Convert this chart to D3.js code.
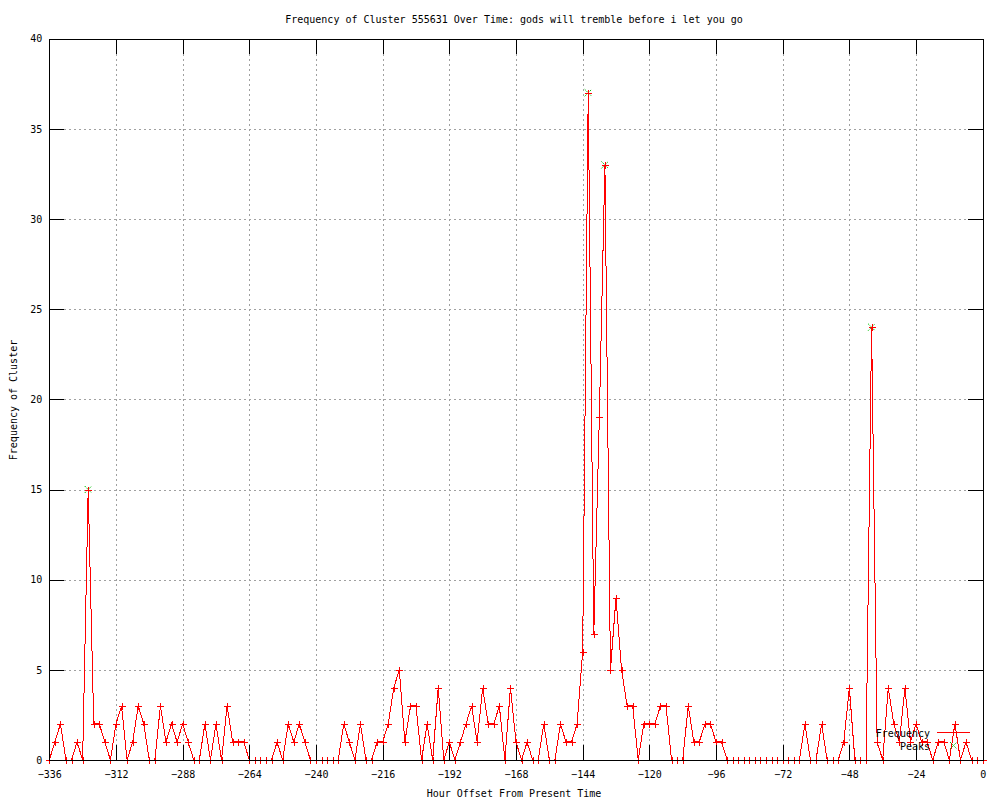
<!DOCTYPE html>
<html>
<head>
<meta charset="utf-8">
<script src="https://cdn.jsdelivr.net/npm/d3@7"></script>
<style>
  html, body { margin: 0; padding: 0; background: #fff; }
  svg { display: block; }
  text { font-family: "DejaVu Sans Mono", "Liberation Mono", monospace; font-size: 10px; fill: #000; }
</style>
</head>
<body>
<svg id="chart" width="1000" height="800"></svg>
<script>
// ---- data ----
const title = "Frequency of Cluster 555631 Over Time: gods will tremble before i let you go";
const xLabel = "Hour Offset From Present Time";
const yLabel = "Frequency of Cluster";
const startHour = -336;
const stepHours = 2;
const frequency = [
  0,1,2,0,0,1,0,15,2,2,1,0,2,3,0,1,3,2,0,0,3,1,2,1,2,1,0,0,2,0,2,0,3,1,1,1,0,0,0,0,0,1,
  0,2,1,2,1,0,0,0,0,0,0,2,1,0,2,0,0,1,1,2,4,5,1,3,3,0,2,0,4,0,1,0,1,2,3,1,4,2,2,3,0,4,
  1,0,1,0,0,2,0,0,2,1,1,2,6,37,7,19,33,5,9,5,3,3,0,2,2,2,3,3,0,0,0,3,1,1,2,2,1,1,0,0,0,
  0,0,0,0,0,0,0,0,0,0,0,2,0,0,2,0,0,0,1,4,0,0,0,24,1,0,4,2,1,4,1,2,1,1,0,1,1,0,2,0,1,0,0,0
];
const peakHours = [-322, -142, -136, -40];
const peakValues = [15, 37, 33, 24];
const xTicks = [-336,-312,-288,-264,-240,-216,-192,-168,-144,-120,-96,-72,-48,-24,0];
const yTicks = [0,5,10,15,20,25,30,35,40];

const freqData = frequency.map((v, i) => ({ x: startHour + i * stepHours, y: v }));
const peakData = peakHours.map((h, i) => ({ x: h, y: peakValues[i] }));

// ---- layout ----
const L = 49.3, R = 982.7, T = 38.7, B = 760;
const svg = d3.select("#chart");
const x = d3.scaleLinear().domain([-336, 0]).range([L, R]);
const y = d3.scaleLinear().domain([0, 40]).range([B, T]);
const TICK = 15;

// grid
const grid = svg.append("g").attr("stroke", "#a0a0a0").attr("stroke-dasharray", "2,3")
  .attr("shape-rendering", "crispEdges");
grid.selectAll("line.gx").data(xTicks.slice(1, -1)).join("line")
  .attr("x1", d => Math.round(x(d)) + 0.5).attr("x2", d => Math.round(x(d)) + 0.5)
  .attr("y1", T).attr("y2", B);
grid.selectAll("line.gy").data(yTicks.slice(1, -1)).join("line")
  .attr("y1", d => Math.round(y(d)) + 0.5).attr("y2", d => Math.round(y(d)) + 0.5)
  .attr("x1", L).attr("x2", R);

// data line
const line = d3.line().x(d => x(d.x)).y(d => y(d.y));
svg.append("path").datum(freqData)
  .attr("d", line).attr("fill", "none").attr("stroke", "#ff0000").attr("stroke-width", 1)
  .attr("shape-rendering", "crispEdges");

// markers
const plus = (cx, cy, s) => `M${cx - s},${cy}H${cx + s}M${cx},${cy - s}V${cy + s}`;
const cross = (cx, cy, s) => `M${cx - s},${cy - s}L${cx + s},${cy + s}M${cx - s},${cy + s}L${cx + s},${cy - s}`;

svg.append("g").selectAll("path.pk").data(peakData).join("path")
  .attr("d", d => cross(x(d.x), y(d.y), 3.5))
  .attr("stroke", "#00c000").attr("stroke-width", 1).attr("stroke-dasharray", "1.5,1").attr("fill", "none");

svg.append("g").selectAll("path").data(freqData).join("path")
  .attr("d", d => plus(Math.round(x(d.x)) + 0.5, Math.round(y(d.y)) + 0.5, 3.5))
  .attr("stroke", "#ff0000").attr("stroke-width", 1).attr("fill", "none")
  .attr("shape-rendering", "crispEdges");

// axes (ticks inward, mirrored)
const axB = svg.append("g").attr("transform", `translate(0,${B})`)
  .call(d3.axisBottom(x).tickValues(xTicks).tickFormat(d3.format("d")).tickSizeInner(-TICK).tickSizeOuter(0).tickPadding(11));
const axT = svg.append("g").attr("transform", `translate(0,${T})`)
  .call(d3.axisTop(x).tickValues(xTicks).tickFormat("").tickSizeInner(-TICK).tickSizeOuter(0));
const axL = svg.append("g").attr("transform", `translate(${L},0)`)
  .call(d3.axisLeft(y).tickValues(yTicks).tickFormat(d3.format("d")).tickSizeInner(-TICK).tickSizeOuter(0).tickPadding(7));
const axR = svg.append("g").attr("transform", `translate(${R},0)`)
  .call(d3.axisRight(y).tickValues(yTicks).tickFormat("").tickSizeInner(-TICK).tickSizeOuter(0));
[axB, axT, axL, axR].forEach(a => {
  a.select(".domain").remove();
  a.selectAll("line").attr("stroke", "#000").attr("shape-rendering", "crispEdges");
  a.selectAll("text").attr("font-family", null).attr("font-size", null).attr("fill", "#000");
});

// border
svg.append("rect").attr("x", Math.round(L) + 0.5).attr("y", Math.round(T) + 0.5)
  .attr("width", Math.round(R) - Math.round(L)).attr("height", Math.round(B) - Math.round(T))
  .attr("fill", "none").attr("stroke", "#000").attr("shape-rendering", "crispEdges");

// titles
svg.append("text").attr("x", 514).attr("y", 19).attr("dy", "0.35em")
  .attr("text-anchor", "middle").text(title);
svg.append("text").attr("x", 514).attr("y", 793).attr("dy", "0.35em")
  .attr("text-anchor", "middle").text(xLabel);
svg.append("text").attr("transform", "translate(13,400) rotate(-90)").attr("dy", "0.35em")
  .attr("text-anchor", "middle").text(yLabel);

// legend
const lg = svg.append("g");
lg.append("text").attr("x", 930).attr("y", 733).attr("dy", "0.35em").attr("text-anchor", "end").text("Frequency");
lg.append("line").attr("x1", 937).attr("x2", 970).attr("y1", 732.5).attr("y2", 732.5)
  .attr("stroke", "#ff0000").attr("shape-rendering", "crispEdges");
lg.append("path").attr("d", plus(953.5, 732.5, 3.5)).attr("stroke", "#ff0000").attr("shape-rendering", "crispEdges");
lg.append("text").attr("x", 930).attr("y", 746).attr("dy", "0.35em").attr("text-anchor", "end").text("Peaks");
lg.append("path").attr("d", cross(953.5, 745.5, 3.5)).attr("stroke", "#00c000").attr("stroke-dasharray", "1.5,1").attr("fill", "none");
</script>
</body>
</html>
